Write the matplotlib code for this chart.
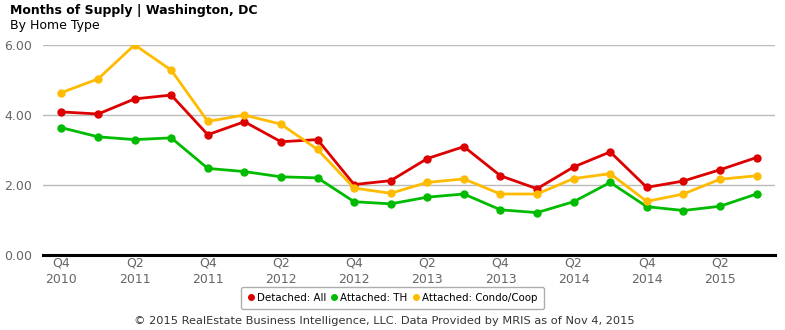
import matplotlib
matplotlib.use("Agg")
import matplotlib.pyplot as plt
from matplotlib.lines import Line2D

# Dados (Q4 2010 .. Q3 2015)
tick_labels = ["Q4\n2010", "Q2\n2011", "Q4\n2011", "Q2\n2012", "Q4\n2012",
               "Q2\n2013", "Q4\n2013", "Q2\n2014", "Q4\n2014", "Q2\n2015"]

detached = [4.09, 4.03, 4.46, 4.57, 3.44, 3.81, 3.24, 3.30, 2.02, 2.13,
            2.76, 3.10, 2.27, 1.90, 2.52, 2.95, 1.94, 2.12, 2.44, 2.79]
townhouse = [3.64, 3.38, 3.30, 3.35, 2.48, 2.39, 2.24, 2.21, 1.53, 1.47,
             1.66, 1.75, 1.30, 1.22, 1.53, 2.08, 1.39, 1.28, 1.40, 1.75]
condo = [4.64, 5.03, 6.00, 5.28, 3.82, 4.00, 3.74, 3.02, 1.92, 1.77,
         2.08, 2.18, 1.75, 1.75, 2.19, 2.33, 1.54, 1.75, 2.17, 2.27]

series = [
    ("Detached: All", detached, "#dd0000"),
    ("Attached: TH", townhouse, "#00bb00"),
    ("Attached: Condo/Coop", condo, "#ffbb00"),
]

fig = plt.figure(figsize=(7.85, 3.3), dpi=100)
ax = fig.add_axes([0.055, 0.226, 0.932, 0.638])

x = list(range(len(detached)))
handles = []
for nome, valores, cor in series:
    ax.plot(x, valores, color=cor, lw=2, marker="o", markersize=5, zorder=3)
    handles.append(Line2D([], [], ls="none", marker="o", color=cor,
                          markersize=4, label=nome))

ax.set_xlim(-0.5, len(x) - 0.5)
ax.set_ylim(0, 6)
ax.set_yticks([0, 2, 4, 6])
ax.set_yticklabels(["0.00", "2.00", "4.00", "6.00"])
ax.set_xticks(x[::2])
ax.set_xticklabels(tick_labels, linespacing=1.35)
ax.tick_params(length=0, colors="#666666", labelsize=9)
ax.tick_params(axis="x", pad=1)
ax.tick_params(axis="y", pad=8)
ax.grid(axis="y", color="#bbbbbb", lw=1)
ax.set_axisbelow(True)
for s in ["top", "right", "left"]:
    ax.spines[s].set_visible(False)
ax.spines["bottom"].set_color("black")
ax.spines["bottom"].set_linewidth(2.2)

fig.text(0.013, 0.968, "Months of Supply | Washington, DC", fontsize=9,
         fontweight="bold", va="center")
fig.text(0.013, 0.922, "By Home Type", fontsize=9, va="center")

leg = fig.legend(handles=handles, loc="center", bbox_to_anchor=(0.5, 0.097),
                 ncol=3, handlelength=0.6, handletextpad=0.3,
                 columnspacing=0.5, frameon=True, fancybox=True,
                 borderpad=0.6,
                 prop={"family": "Liberation Sans Narrow", "size": 7.4})
leg.get_frame().set_edgecolor("#999999")
leg.get_frame().set_linewidth(1)

fig.text(0.49, 0.027,
         "\u00a9 2015 RealEstate Business Intelligence, LLC. Data Provided by MRIS as of Nov 4, 2015",
         fontsize=8.2, color="#333333", ha="center", va="center")

fig.savefig("out.png", dpi=100)
